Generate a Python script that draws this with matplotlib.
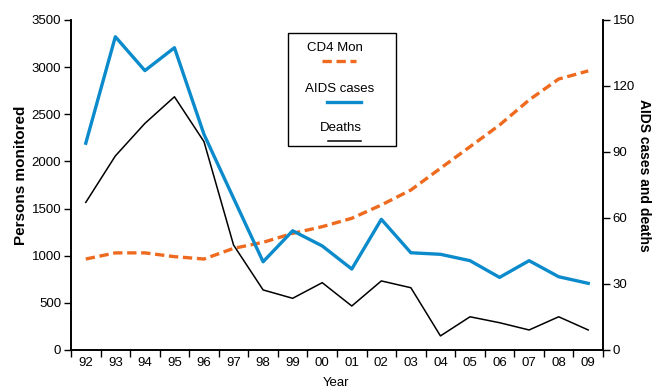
import matplotlib
matplotlib.use("Agg")
import matplotlib.pyplot as plt
from matplotlib.lines import Line2D
from matplotlib.patches import Rectangle
import numpy as np

plt.rcParams['font.family'] = ['Liberation Sans', 'DejaVu Sans']

years = ["92", "93", "94", "95", "96", "97", "98", "99", "00", "01",
         "02", "03", "04", "05", "06", "07", "08", "09"]
cd4_monitored = [965, 1030, 1030, 990, 965, 1078, 1142, 1237, 1308, 1397,
                 1538, 1697, 1927, 2156, 2386, 2652, 2874, 2960]
aids_cases = [94.0, 142.4, 127.0, 137.4, 98.0, 69.0, 40.1, 54.2, 47.3, 36.8,
              59.4, 44.2, 43.5, 40.6, 33.0, 40.6, 33.3, 30.3]
deaths = [67.1, 88.2, 103.0, 115.1, 94.7, 47.7, 27.3, 23.5, 30.6, 20.0,
          31.4, 28.3, 6.4, 15.1, 12.4, 9.1, 15.1, 9.1]
left_ticks = [0, 500, 1000, 1500, 2000, 2500, 3000, 3500]
right_ticks = [0, 30, 60, 90, 120, 150]

ORANGE = "#EE6A1E"
BLUE = "#0B8BCB"
BLACK = "#000000"

W, H = 652, 390
fig = plt.figure(figsize=(W / 100, H / 100), dpi=100)
ax = fig.add_axes([71 / W, 1 - 350 / H, (603 - 71) / W, (350 - 20) / H])
ax2 = ax.twinx()

x = np.arange(len(years))

ax.plot(x, cd4_monitored, color=ORANGE, lw=2.4, dashes=(2.8, 1.4),
        solid_capstyle='butt', dash_capstyle='butt', zorder=3)
ax2.plot(x, aids_cases, color=BLUE, lw=2.4, zorder=3)
ax2.plot(x, deaths, color=BLACK, lw=1.1, zorder=3)

n = len(years)
ax.set_xlim(-0.5, n - 0.5)
ax.set_ylim(0, 3500)
ax2.set_ylim(0, 150)

ax.set_xticks(np.arange(-0.5, n, 1.0))
ax.set_xticklabels([])
ax.set_xticks(x, minor=True)
ax.set_xticklabels(years, minor=True)
ax.tick_params(axis='x', which='major', direction='out', length=5, width=1)
ax.tick_params(axis='x', which='minor', length=0, labelsize=9.5, pad=5)

ax.set_yticks(left_ticks)
ax.tick_params(axis='y', direction='out', length=5, width=1, labelsize=9.5, pad=2)
ax2.set_yticks(right_ticks)
ax2.tick_params(axis='y', direction='out', length=5, width=1, labelsize=9.5, pad=2)

for a in (ax, ax2):
    a.spines['top'].set_visible(False)
    for s in ('left', 'right', 'bottom'):
        a.spines[s].set_linewidth(1.2)


def fx(px):
    return px / W


def fy(py):
    return 1 - py / H


# Axis titles
fig.text(fx(21), fy(175), "Persons monitored", rotation=90, ha='center',
         va='center', fontsize=11, fontweight='bold')
fig.text(fx(644), fy(175.5), "AIDS cases and deaths", rotation=270, ha='center',
         va='center', fontsize=10, fontweight='bold')
fig.text(fx(336), fy(383), "Year", ha='center', va='center', fontsize=9.5)

# Legend box: label text above each line sample
fig.patches.append(Rectangle((fx(288), fy(146)), fx(396) - fx(288), fy(33) - fy(146),
                             transform=fig.transFigure, fill=False,
                             edgecolor='black', lw=1.0, zorder=5))
entries = [
    ("CD4 Mon", 48, 61, 322, 356, dict(color=ORANGE, lw=2.4, dashes=(2.8, 1.4))),
    ("AIDS cases", 89, 102, 327, 361, dict(color=BLUE, lw=2.4)),
    ("Deaths", 128, 141, 328, 361, dict(color=BLACK, lw=1.1)),
]
for label, ty, ly, x0, x1, style in entries:
    fig.text(fx((x0 + x1) / 2 - 4), fy(ty), label, ha='center', va='center',
             fontsize=9.5)
    fig.lines.append(Line2D([fx(x0), fx(x1)], [fy(ly), fy(ly)],
                            transform=fig.transFigure, **style))

fig.savefig("out.png", dpi=100)
